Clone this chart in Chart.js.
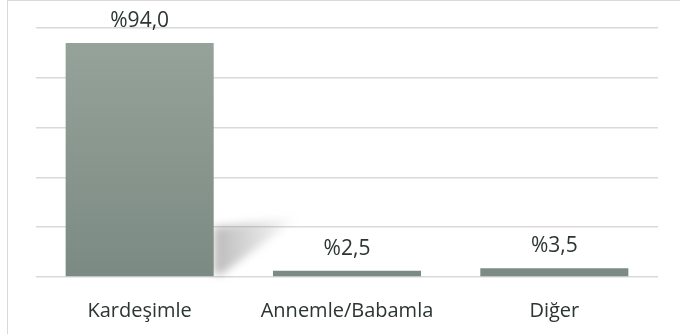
<!DOCTYPE html>
<html>
<head>
<meta charset="utf-8">
<script src="https://cdn.jsdelivr.net/npm/chart.js@4/dist/chart.umd.min.js"></script>
<style>
  html, body { margin: 0; padding: 0; background: #fff; }
  #wrap { position: relative; width: 680px; height: 334px; }
  #frame { position: absolute; left: 7px; top: 0; width: 700px; height: 340px; border: 1px solid #d9d9d9; box-sizing: border-box; }
  canvas { position: absolute; left: 0; top: 0; }
</style>
</head>
<body>
<div id="wrap">
  <div id="frame"></div>
  <canvas id="grafico" width="680" height="334"></canvas>
</div>
<script>
// Kategoriler ve yüzdeler
const kategoriler = ["Kardeşimle", "Annemle/Babamla", "Diğer"];
const yuzdeler = [94.0, 2.5, 3.5];
const eksenMax = 100;
const eksenAdim = 20;

// yüzde etiketi: %94,0
const etiket = v => "%" + v.toFixed(1).replace(".", ",");

// ilk çubuğun arkasındaki eğik gölge
const golgePlugin = {
  id: "golge",
  beforeDatasetsDraw(chart) {
    const bar = chart.getDatasetMeta(0).data[0];
    if (!bar) return;
    const { ctx } = chart;
    const sag = bar.x + bar.width / 2;
    const h = (bar.base - bar.y) * 0.21;
    const dx = bar.width * 0.57;
    ctx.save();
    const g = ctx.createLinearGradient(sag, 0, sag + dx, 0);
    g.addColorStop(0, "rgba(120,120,120,0.5)");
    g.addColorStop(1, "rgba(120,120,120,0)");
    ctx.fillStyle = g;
    ctx.beginPath();
    ctx.moveTo(sag, bar.base - h);
    ctx.lineTo(sag + dx, bar.base - h - 10);
    ctx.lineTo(sag + 8, bar.base - 2);
    ctx.lineTo(sag, bar.base - 2);
    ctx.closePath();
    ctx.filter = "blur(4px)";
    ctx.fill();
    ctx.restore();
  }
};

// çubukların üstündeki değer etiketleri
const etiketPlugin = {
  id: "etiketler",
  afterDatasetsDraw(chart) {
    const { ctx } = chart;
    ctx.save();
    ctx.font = "21px 'Open Sans', sans-serif";
    ctx.fillStyle = "#2b3532";
    ctx.textAlign = "center";
    ctx.textBaseline = "alphabetic";
    chart.getDatasetMeta(0).data.forEach((bar, i) => {
      ctx.fillText(etiket(yuzdeler[i]), bar.x, bar.y - 16);
    });
    ctx.restore();
  }
};

const ctx = document.getElementById("grafico");
new Chart(ctx, {
  type: "bar",
  data: {
    labels: kategoriler,
    datasets: [{
      data: yuzdeler,
      backgroundColor: c => {
        const area = c.chart.chartArea;
        if (!area) return "#8a9990";
        const g = c.chart.ctx.createLinearGradient(0, area.top, 0, area.bottom);
        g.addColorStop(0, "#97a49c");
        g.addColorStop(1, "#7b8a82");
        return g;
      },
      borderWidth: 0,
      categoryPercentage: 1,
      barPercentage: 0.714
    }]
  },
  options: {
    responsive: false,
    animation: false,
    layout: { padding: { left: 36, right: 22, top: 28, bottom: 0 } },
    plugins: { legend: { display: false }, tooltip: { enabled: false } },
    scales: {
      x: {
        grid: { display: false },
        border: { display: false },
        ticks: { color: "#2b3532", font: { family: "'Open Sans', sans-serif", size: 20 }, padding: 14 },
        afterFit: s => { s.height = 57; }
      },
      y: {
        min: 0,
        max: eksenMax,
        ticks: { display: false, stepSize: eksenAdim },
        grid: { color: "#d9d9d9", lineWidth: 1.5, drawTicks: false },
        border: { display: false }
      }
    }
  },
  plugins: [golgePlugin, etiketPlugin]
});
</script>
</body>
</html>
